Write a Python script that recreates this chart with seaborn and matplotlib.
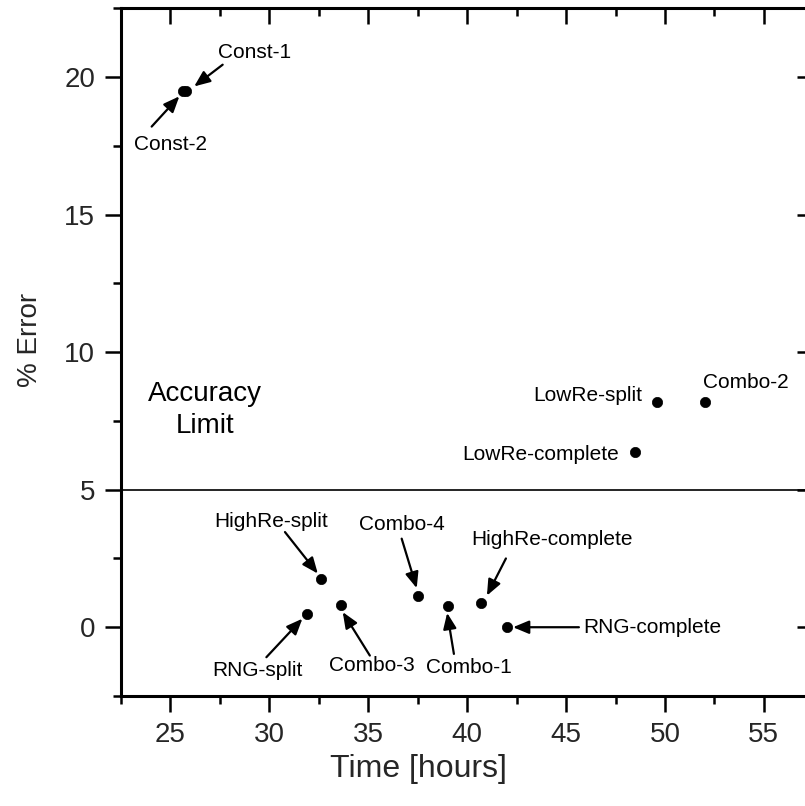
import matplotlib
matplotlib.use("Agg")
import matplotlib.pyplot as plt
import seaborn as sns
import pandas as pd
from matplotlib.ticker import MultipleLocator

# Simulation runs: wall-clock time vs. percentage error
runs = ["Const-1", "Const-2", "HighRe-split", "RNG-split", "Combo-3", "Combo-4",
        "Combo-1", "HighRe-complete", "RNG-complete", "LowRe-complete",
        "LowRe-split", "Combo-2"]
time_hours = [25.8, 25.65, 32.6, 31.9, 33.6, 37.5, 39.05, 40.7, 42.0, 48.5, 49.6, 52.05]
pct_error = [19.5, 19.5, 1.76, 0.49, 0.79, 1.12, 0.76, 0.87, 0.0, 6.37, 8.19, 8.19]

accuracy_limit = 5.0

df = pd.DataFrame({"run": runs, "time": time_hours, "error": pct_error})

# Label placement: (text centre, arrow start, arrow tip) in data units
label_layout = {
    "Const-1":         ((29.27, 20.88), (27.64, 20.45), (26.20, 19.66)),
    "Const-2":         ((24.98, 17.54), (24.05, 18.20), (25.45, 19.30)),
    "HighRe-split":    ((30.08, 3.85), (30.79, 3.46), (32.45, 1.95)),
    "Combo-4":         ((36.71, 3.74), (36.69, 3.22), (37.45, 1.42)),
    "HighRe-complete": ((44.30, 3.20), (41.96, 2.50), (41.00, 1.15)),
    "RNG-split":       ((29.38, -1.58), (29.85, -1.09), (31.67, 0.31)),
    "Combo-3":         ((35.19, -1.39), (35.08, -1.03), (33.71, 0.55)),
    "Combo-1":         ((40.09, -1.47), (39.33, -0.97), (38.99, 0.52)),
    "RNG-complete":    ((49.35, 0.00), (45.65, 0.00), (42.32, 0.00)),
    "LowRe-split":     ((46.11, 8.43), None, None),
    "Combo-2":         ((54.10, 8.91), None, None),
    "LowRe-complete":  ((43.73, 6.29), None, None),
}

sns.set_theme(style="white")
plt.rcParams["font.family"] = ["Liberation Sans", "DejaVu Sans"]

fig = plt.figure(figsize=(8.05, 8.06), dpi=100)
ax = fig.add_axes([121 / 805, 110 / 806, 692.3 / 805, 687.7 / 806])

sns.scatterplot(data=df, x="time", y="error", ax=ax, color="black",
                s=55, edgecolor="black", linewidth=0.5, legend=False, zorder=3)

ax.axhline(accuracy_limit, color="black", lw=1.2, zorder=2)

ax.set_xlim(22.5, 57.5)
ax.set_ylim(-2.5, 22.5)
ax.xaxis.set_major_locator(MultipleLocator(5))
ax.xaxis.set_minor_locator(MultipleLocator(2.5))
ax.yaxis.set_major_locator(MultipleLocator(5))
ax.yaxis.set_minor_locator(MultipleLocator(2.5))

for side in ["left", "right", "top", "bottom"]:
    ax.spines[side].set_visible(True)
    ax.spines[side].set_color("black")
    ax.spines[side].set_linewidth(2.2)

ax.tick_params(axis="both", which="major", direction="out", length=11.5,
               width=1.8, color="black", labelsize=20, pad=7,
               bottom=True, left=True)
ax.tick_params(axis="both", which="minor", direction="out", length=6,
               width=1.8, color="black", bottom=True, left=True)
ax.tick_params(axis="both", which="both", top=True, right=True,
               labeltop=False, labelright=False)
# mirrored ticks on the top and right edges point inward
for tick in ax.xaxis.get_major_ticks() + ax.xaxis.get_minor_ticks():
    tick.tick2line.set_marker(matplotlib.lines.TICKDOWN)
for tick in ax.yaxis.get_major_ticks() + ax.yaxis.get_minor_ticks():
    tick.tick2line.set_marker(matplotlib.lines.TICKLEFT)

ax.set_xlabel("Time [hours]", fontsize=23)
ax.set_ylabel("% Error", fontsize=20)
ax.xaxis.set_label_coords((418 - 121) / 692.3, -(769 - 696) / 687.7)
ax.yaxis.set_label_coords(-(121 - 30) / 692.3, (696 - 340) / 687.7)
ax.xaxis.label.set_va("center")
ax.yaxis.label.set_va("center")

for name, (txt, start, tip) in label_layout.items():
    ax.text(txt[0], txt[1], name, fontsize=15, ha="center", va="center",
            color="black", zorder=4)
    if start is not None:
        ax.annotate("", xy=tip, xytext=start,
                    arrowprops=dict(arrowstyle="-|>,head_length=0.6,head_width=0.25",
                                    color="black", lw=1.6,
                                    mutation_scale=16, shrinkA=0, shrinkB=0),
                    zorder=4)

ax.text(26.75, 7.89, "Accuracy\nLimit", fontsize=20, ha="center", va="center",
        linespacing=1.3, color="black")

fig.savefig("out.png", dpi=100)
